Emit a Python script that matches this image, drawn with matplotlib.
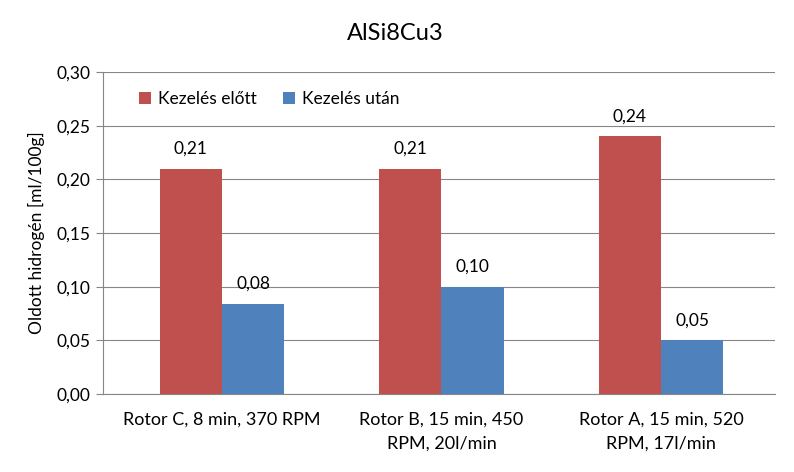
import numpy as np
import matplotlib
matplotlib.use('Agg')
from matplotlib import pyplot as plt

kategoriak = ['Rotor C, 8 min, 370 RPM', 'Rotor B, 15 min, 450\nRPM, 20l/min', 'Rotor A, 15 min, 520\nRPM, 17l/min']
elotte = [0.21, 0.21, 0.24]
utana = [0.084, 0.10, 0.05]
cimkek_elotte = ['0,21', '0,21', '0,24']
cimkek_utana = ['0,08', '0,10', '0,05']
yticks = [0.0, 0.05, 0.10, 0.15, 0.20, 0.25, 0.30]

plt.rcParams['font.family'] = ['Lato', 'DejaVu Sans']
fs = 12.5

fig = plt.figure(figsize=(7.94, 4.72), dpi=100)
ax = fig.add_axes([0.1297, 0.1653, 0.8463, 0.6822])

x = np.arange(len(kategoriak))
w = 0.283
b1 = ax.bar(x - w/2, elotte, w, color='#C0504D', label='Kezelés előtt', zorder=3)
b2 = ax.bar(x + w/2, utana, w, color='#4F81BD', label='Kezelés után', zorder=3)

for rect, t in zip(b1, cimkek_elotte):
    ax.text(rect.get_x() + rect.get_width()/2, rect.get_height() + 0.011, t,
            ha='center', va='bottom', fontsize=fs)
for rect, t in zip(b2, cimkek_utana):
    ax.text(rect.get_x() + rect.get_width()/2, rect.get_height() + 0.011, t,
            ha='center', va='bottom', fontsize=fs)

ax.set_xlim(-0.542, 2.519)
ax.set_ylim(0, 0.30)
ax.set_yticks(yticks)
ax.set_yticklabels([('%.2f' % v).replace('.', ',') for v in yticks], fontsize=fs)
ax.set_xticks(x)
ax.set_xticklabels(kategoriak, fontsize=13, linespacing=1.6)
ax.tick_params(axis='x', length=0, pad=13)
ax.tick_params(axis='y', length=5, color='#868686', pad=4)
ax.grid(axis='y', color='#868686', linewidth=0.8, zorder=0)
for s in ['top', 'right']:
    ax.spines[s].set_visible(False)
ax.spines['left'].set_color('#868686')
ax.spines['bottom'].set_color('#868686')

ax.set_ylabel('Oldott hidrogén [ml/100g]', fontsize=fs, labelpad=8)
fig.text(0.4975, 0.93, 'AlSi8Cu3', fontsize=17, ha='center', va='center')

ax.legend(loc='upper left', bbox_to_anchor=(0.03, 0.99), ncol=2, frameon=False,
          fontsize=fs, handlelength=0.7, handleheight=0.7, handletextpad=0.4,
          columnspacing=1.5)

fig.savefig('out.png', dpi=100)
